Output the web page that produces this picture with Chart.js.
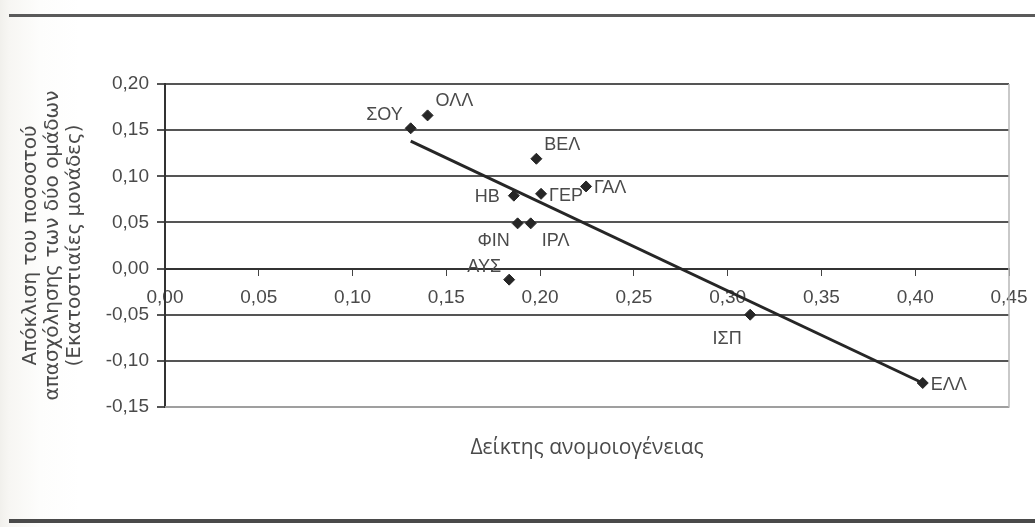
<!DOCTYPE html>
<html>
<head>
<meta charset="utf-8">
<script src="https://cdn.jsdelivr.net/npm/chart.js@4.4.0/dist/chart.umd.min.js"></script>
<style>
  body { margin:0; background:#fff; }
  #page { position:relative; width:1035px; height:527px; overflow:hidden;
          background:linear-gradient(to right,#f1f0ec 0px,#f7f6f3 9px,#fdfdfc 40px,#fff 80px); }
  .rule { position:absolute; left:9px; right:0; background:#5a5a5a; }
  #wrap { position:absolute; left:0; top:0; width:1035px; height:527px; }
</style>
</head>
<body>
<div id="page">
  <div class="rule" style="top:14px;height:3px"></div>
  <div class="rule" style="top:519px;height:4px;background:#4a4a4a"></div>
  <div id="wrap"><canvas id="chart1"></canvas></div>
</div>
<script>
// countries (Greek abbreviations) and their values
var countries = ['ΣΟΥ','ΟΛΛ','ΒΕΛ','ΓΑΛ','ΓΕΡ','ΗΒ','ΦΙΝ','ΙΡΛ','ΑΥΣ','ΙΣΠ','ΕΛΛ']
var dissim    = [0.131, 0.140, 0.198, 0.2245, 0.2005, 0.186, 0.188, 0.195, 0.1835, 0.312, 0.404]
var gap       = [0.152, 0.166, 0.119, 0.089, 0.081, 0.079, 0.049, 0.049, -0.012, -0.050, -0.124]

// linear trend end points
var trendX = [0.131, 0.404]
var trendY = [0.138, -0.124]

var xTicks = [0, 0.05, 0.10, 0.15, 0.20, 0.25, 0.30, 0.35, 0.40, 0.45]
var yTicks = [-0.15, -0.10, -0.05, 0, 0.05, 0.10, 0.15, 0.20]

// where each label sits relative to its point
var labelPos  = ['nw','ne','ne','e','e','w','sw','se','nw','s','e']

const fmt = v => (Math.round(v*100)/100).toFixed(2).replace('.', ',')
const txt = '#4a4a4a'
const font = "'Liberation Sans',Arial,sans-serif"

var pts = []
for (var i = 0; i < countries.length; i++) pts.push({x: dissim[i], y: gap[i]})
var line = []
for (var i = 0; i < trendX.length; i++) line.push({x: trendX[i], y: trendY[i]})

const labelsPlugin = {
  id: 'pointLabels',
  afterDatasetsDraw: function(chart) {
    const ctx = chart.ctx
    ctx.save()
    ctx.font = '18px ' + font
    ctx.fillStyle = txt
    const meta = chart.getDatasetMeta(0)
    for (var i = 0; i < countries.length; i++) {
      const p = meta.data[i]
      let x = p.x, y = p.y
      switch (labelPos[i]) {
        case 'nw': ctx.textAlign = 'right'; ctx.textBaseline = 'bottom'; x -= 8; y -= 4; break
        case 'ne': ctx.textAlign = 'left';  ctx.textBaseline = 'bottom'; x += 8; y -= 5; break
        case 'e':  ctx.textAlign = 'left';  ctx.textBaseline = 'middle'; x += 8; y += 2; break
        case 'w':  ctx.textAlign = 'right'; ctx.textBaseline = 'middle'; x -= 14; y += 1; break
        case 'sw': ctx.textAlign = 'center'; ctx.textBaseline = 'top'; x -= 24; y += 9; break
        case 'se': ctx.textAlign = 'left';  ctx.textBaseline = 'top'; x += 11; y += 9; break
        case 's':  ctx.textAlign = 'center'; ctx.textBaseline = 'top'; x -= 23; y += 15; break
      }
      ctx.fillText(countries[i], x, y)
    }
    ctx.restore()
  }
}

const framePlugin = {
  id: 'plotFrame',
  beforeDatasetsDraw: function(chart) {
    const a = chart.chartArea, ctx = chart.ctx
    ctx.save()
    ctx.strokeStyle = '#b8b8b8'
    ctx.lineWidth = 1.5
    ctx.beginPath()
    ctx.moveTo(a.left, a.bottom); ctx.lineTo(a.right, a.bottom); ctx.lineTo(a.right, a.top)
    ctx.stroke()
    ctx.restore()
  },
  afterDraw: function(chart) {
    // x axis title, centred under the plot area
    const a = chart.chartArea, ctx = chart.ctx
    ctx.save()
    ctx.font = "21px 'Open Sans',sans-serif"
    ctx.fillStyle = txt
    ctx.textAlign = 'center'
    ctx.textBaseline = 'middle'
    ctx.fillText('Δείκτης ανομοιογένειας', (a.left + a.right) / 2, a.bottom + 41)
    ctx.restore()
  }
}

const myChart = new Chart(document.getElementById('chart1').getContext('2d'), {
  type: 'scatter',
  data: {
    datasets: [{
      label: 'Χώρες',
      data: pts,
      pointStyle: 'rectRot',
      radius: 5.5,
      backgroundColor: '#262626',
      borderColor: '#262626',
      order: 1
    }, {
      label: 'Τάση',
      data: line,
      showLine: true,
      pointRadius: 0,
      borderColor: '#262626',
      borderWidth: 3,
      order: 2
    }]
  },
  options: {
    responsive: true,
    maintainAspectRatio: false,
    animation: false,
    layout: { padding: { left: 10, right: 26, top: 84, bottom: 120 } },
    plugins: {
      legend: { display: false },
      tooltip: { enabled: false }
    },
    scales: {
      x: {
        type: 'linear',
        min: 0, max: 0.45,
        position: { y: 0 },
        afterBuildTicks: s => { s.ticks = xTicks.map(v => ({value: v})) },
        afterFit: s => { s.paddingRight = 0; s.paddingLeft = 0 },
        ticks: { callback: v => fmt(v), color: txt, font: { family: font, size: 19 }, padding: 12, maxRotation: 0 },
        grid: { drawOnChartArea: false, drawTicks: true, tickLength: 6, color: '#444', lineWidth: 1 },
        border: { display: true, color: '#333', width: 2 }
      },
      y: {
        min: -0.15, max: 0.20,
        afterBuildTicks: s => { s.ticks = yTicks.map(v => ({value: v})) },
        afterFit: s => { s.width = 155 },
        ticks: { callback: v => fmt(v), color: txt, font: { family: font, size: 19 }, padding: 8 },
        grid: { color: '#555', lineWidth: 2, tickLength: 8 },
        border: { display: true, color: '#333', width: 2 },
        title: {
          display: true,
          text: ['Απόκλιση του ποσοστού', 'απασχόλησης των δύο ομάδων', '(Εκατοστιαίες μονάδες)'],
          color: txt,
          font: { family: "'DejaVu Sans',sans-serif", size: 20, lineHeight: 1.1 },
          padding: { top: 10, bottom: 2 }
        }
      }
    }
  },
  plugins: [labelsPlugin, framePlugin]
});
</script>
</body>
</html>
